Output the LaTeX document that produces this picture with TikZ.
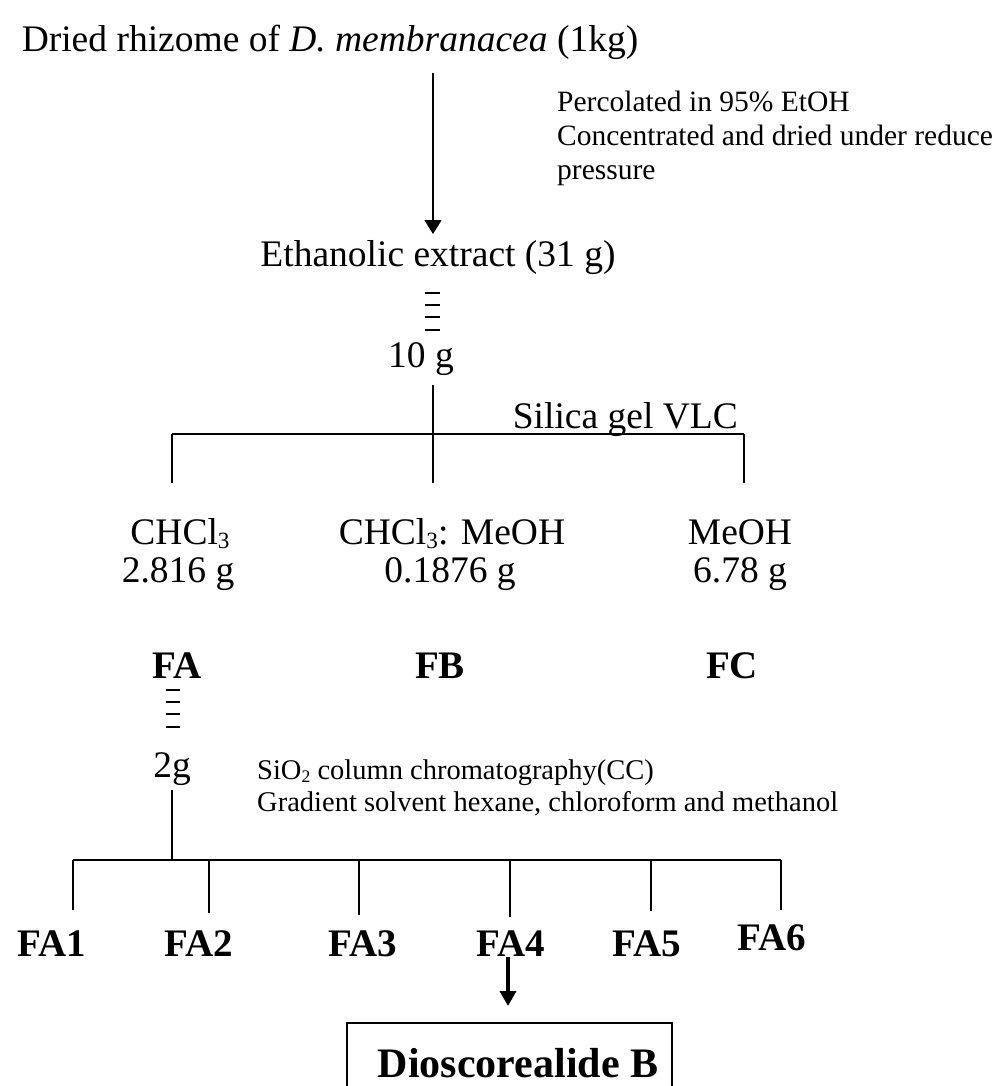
\documentclass[tikz,border=0pt]{standalone}
\usepackage{fontspec}
\setmainfont{Liberation Serif}
\usetikzlibrary{arrows.meta}
\newcommand{\mysub}[1]{\raisebox{-0.12em}{\fontsize{0.62em}{0.62em}\selectfont #1}}
\begin{document}
\begin{tikzpicture}[x=1pt,y=-1pt,
  big/.style={font=\fontsize{37.5}{40}\selectfont, inner sep=0pt, anchor=base},
  small/.style={font=\fontsize{29.5}{33}\selectfont, inner sep=0pt, anchor=base west},
  note/.style={font=\fontsize{28.5}{32}\selectfont, inner sep=0pt, anchor=base west},
  lbl/.style={font=\bfseries\fontsize{39}{42}\selectfont, inner sep=0pt, anchor=base},
  ln/.style={line width=1.6pt},
  bar/.style={line width=1.6pt},
  arr/.style={line width=1.6pt, -{Triangle[width=17pt,length=14pt]}},
  thickarr/.style={line width=4pt, -{Triangle[width=16pt,length=15pt]}}
]
\useasboundingbox (0,0) rectangle (992,1086);

% Title and first step
\node[big] (title) at (330,52) {Dried rhizome of \textit{D. membranacea} (1kg)};
\coordinate (a1) at (433,73);
\coordinate (a2) at (433,234);
\draw[arr] (a1) -- (a2);
\node[small] (p1) at (557,112) {Percolated in 95\% EtOH};
\node[small] (p2) at (557,146) {Concentrated and dried under reduce};
\node[small] (p3) at (557,179) {pressure};

\node[big] (eth) at (438,266) {Ethanolic extract (31 g)};
\foreach \yy in {293,305,317,330} \draw[bar] (425,\yy) -- (440,\yy);
\node[big] (ten) at (421,367) {10 g};

% VLC tree
\coordinate (t0) at (433,385);
\coordinate (tj) at (433,434);
\coordinate (tl) at (172,434);
\coordinate (tr) at (744,434);
\coordinate (bl) at (172,483);
\coordinate (bm) at (433,483);
\coordinate (br) at (744,483);
\draw[ln] (t0) -- (tj);
\draw[ln] (tl) -- (tr);
\draw[ln] (tl) -- (bl);
\draw[ln] (tj) -- (bm);
\draw[ln] (tr) -- (br);
\node[big, anchor=base east] (vlc) at (738,428) {Silica gel VLC};

\node[big] (f1a) at (180,544) {CHCl\mysub{3}};
\node[big] (f1b) at (178,582) {2.816 g};
\node[big] (f2a) at (452,544) {CHCl\mysub{3}: MeOH};
\node[big] (f2b) at (450,582) {0.1876 g};
\node[big] (f3a) at (740,544) {MeOH};
\node[big] (f3b) at (740,582) {6.78 g};

\node[lbl] (fa) at (177,678) {FA};
\node[lbl] (fb) at (440,678) {FB};
\node[lbl] (fc) at (732,678) {FC};

\foreach \yy in {690,702,714,727} \draw[bar] (166,\yy) -- (180,\yy);
\node[big] (two) at (172,777) {2g};
\node[note] (cc1) at (257,779) {SiO\mysub{2} column chromatography(CC)};
\node[note] (cc2) at (257,811) {Gradient solvent hexane, chloroform and methanol};

% CC tree
\coordinate (s0) at (172,790);
\coordinate (sj) at (172,860);
\coordinate (h1) at (73,860);
\coordinate (h2) at (209,860);
\coordinate (h3) at (359,860);
\coordinate (h4) at (510,860);
\coordinate (h5) at (651,860);
\coordinate (h6) at (781,860);
\draw[ln] (s0) -- (sj);
\draw[ln] (h1) -- (h6);
\coordinate (d1) at (73,910);
\coordinate (d2) at (209,913);
\coordinate (d3) at (359,915);
\coordinate (d4) at (510,917);
\coordinate (d5) at (651,911);
\coordinate (d6) at (781,910);
\draw[ln] (h1) -- (d1);
\draw[ln] (h2) -- (d2);
\draw[ln] (h3) -- (d3);
\draw[ln] (h4) -- (d4);
\draw[ln] (h5) -- (d5);
\draw[ln] (h6) -- (d6);

\node[lbl] (fa1) at (52,956) {FA1};
\node[lbl] (fa2) at (199,956) {FA2};
\node[lbl] (fa3) at (363,956) {FA3};
\node[lbl] (fa4) at (511,956) {FA4};
\node[lbl] (fa5) at (647,956) {FA5};
\node[lbl] (fa6) at (772,950) {FA6};

\coordinate (q1) at (508,957);
\coordinate (q2) at (508,1006);
\draw[thickarr] (q1) -- (q2);

\draw[ln] (347,1023) rectangle (672,1120);
\node[lbl, font=\bfseries\fontsize{42}{46}\selectfont] (prod) at (518,1077) {Dioscorealide B};
\end{tikzpicture}
\end{document}
